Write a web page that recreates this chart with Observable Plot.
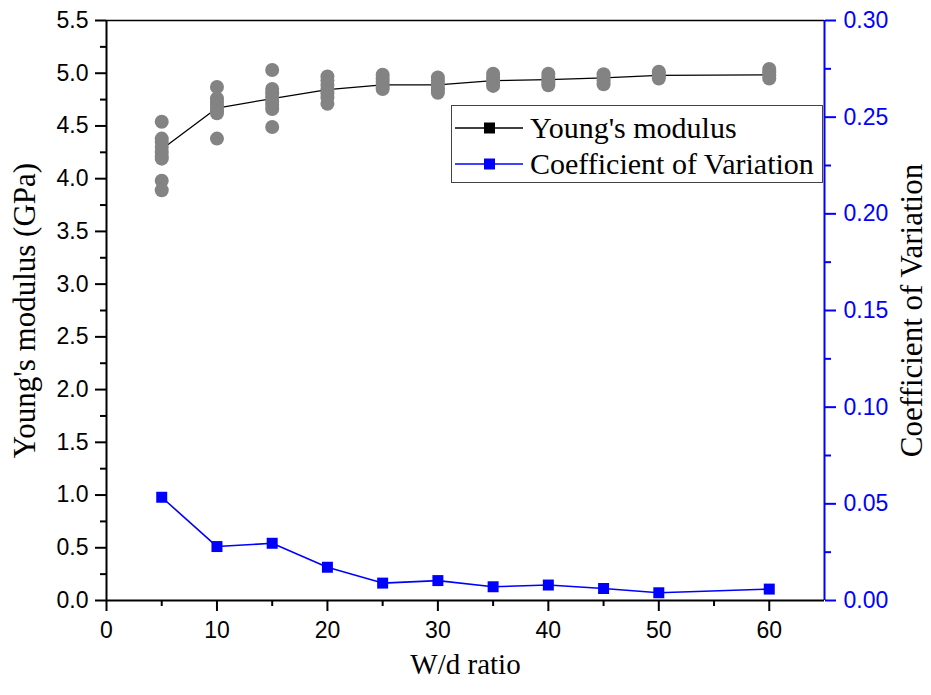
<!DOCTYPE html>
<html>
<head>
<meta charset="utf-8">
<script src="https://cdn.jsdelivr.net/npm/d3@7"></script>
<script src="https://cdn.jsdelivr.net/npm/@observablehq/plot@0.6"></script>
<style>
  html, body { margin: 0; padding: 0; background: #fff; }
  #wrap { position: relative; width: 931px; height: 695px; }
  #legend {
    position: absolute; left: 451px; top: 105px; width: 372px; height: 78px;
    border: 1.3px solid #444; background: #fff; box-sizing: border-box;
    font-family: "Liberation Serif", "Times New Roman", serif; font-size: 30px; color: #000;
  }
  .row { position: absolute; left: 0; display: flex; align-items: center; height: 36px; }
  .row span { margin-left: 6px; white-space: nowrap; }
</style>
</head>
<body>
<div id="wrap"></div>
<script>
// ---- data ----
const wdRatio = [5, 10, 15, 20, 25, 30, 35, 40, 45, 50, 60];
const youngsMean = [4.28, 4.67, 4.76, 4.845, 4.89, 4.89, 4.93, 4.94, 4.955, 4.98, 4.985];
const cvValues = [0.0534, 0.0279, 0.0296, 0.0172, 0.0090, 0.0103, 0.0071, 0.0080, 0.0062, 0.0040, 0.0059];
const youngsSamples = [
  [4.54, 4.38, 4.35, 4.30, 4.25, 4.21, 4.19, 3.98, 3.89],
  [4.87, 4.76, 4.73, 4.70, 4.67, 4.64, 4.62, 4.38],
  [5.03, 4.85, 4.81, 4.77, 4.73, 4.70, 4.66, 4.49],
  [4.97, 4.93, 4.89, 4.85, 4.81, 4.77, 4.71],
  [4.985, 4.95, 4.92, 4.89, 4.87, 4.85],
  [4.96, 4.93, 4.90, 4.87, 4.84, 4.815],
  [4.995, 4.96, 4.93, 4.90, 4.88],
  [4.995, 4.96, 4.93, 4.91, 4.885],
  [4.99, 4.96, 4.93, 4.895],
  [5.015, 4.99, 4.97, 4.95],
  [5.04, 5.01, 4.98, 4.95]
];
const xTicks = [0, 10, 20, 30, 40, 50, 60];
const xMinorTicks = [5, 15, 25, 35, 45, 55];
const yTicks = [0, 0.5, 1, 1.5, 2, 2.5, 3, 3.5, 4, 4.5, 5, 5.5];
const yMinorTicks = [0.25, 0.75, 1.25, 1.75, 2.25, 2.75, 3.25, 3.75, 4.25, 4.75, 5.25];
const cvTicks = [0, 0.05, 0.10, 0.15, 0.20, 0.25, 0.30];
const cvMinorTicks = [0.025, 0.075, 0.125, 0.175, 0.225, 0.275];
const yMax = 5.5, cvMax = 0.30;
const xLabel = "W/d ratio";
const yLabel = "Young's modulus (GPa)";
const cvLabel = "Coefficient of Variation";
const legendLabels = ["Young's modulus", "Coefficient of Variation"];

// ---- build tables ----
const k = yMax / cvMax; // map CV onto the left y scale
const points = youngsSamples.flatMap((arr, i) => arr.map(v => ({x: wdRatio[i], y: v})));
const means = wdRatio.map((x, i) => ({x, y: youngsMean[i]}));
const cv = wdRatio.map((x, i) => ({x, y: cvValues[i] * k}));

const sans = "'Liberation Sans', Arial, sans-serif";
const serif = "'Liberation Serif', 'Times New Roman', serif";
const blue = "#0000ff";
const tickFont = 23;

const chart = Plot.plot({
  width: 931,
  height: 695,
  marginLeft: 106,
  marginRight: 107,
  marginTop: 20,
  marginBottom: 95,
  style: {fontFamily: sans, fontSize: tickFont + "px", background: "#fff", color: "#000"},
  x: {domain: [0, 65]},
  y: {domain: [0, yMax]},
  marks: [
    // CV series
    Plot.line(cv, {x: "x", y: "y", stroke: blue, strokeWidth: 1.6}),
    Plot.dot(cv, {x: "x", y: "y", symbol: "square", r: 6.2, fill: blue, stroke: null}),
    // Young's modulus mean line
    Plot.line(means, {x: "x", y: "y", stroke: "#000", strokeWidth: 1.3}),
    Plot.dot(means, {x: "x", y: "y", symbol: "square", r: 5, fill: "#000", stroke: null}),
    // sample points
    Plot.dot(points, {x: "x", y: "y", r: 7, fill: "#838383", stroke: null}),
    // frame lines
    Plot.ruleY([yMax], {stroke: "#000", strokeWidth: 1.5}),
    Plot.ruleX([65], {stroke: blue, strokeWidth: 2}),
    Plot.ruleX([0], {stroke: "#000", strokeWidth: 2}),
    Plot.ruleY([0], {stroke: "#000", strokeWidth: 2}),
    // x axis
    Plot.axisX(xTicks, {anchor: "bottom", tickSize: 11, tickPadding: 10, strokeWidth: 2, fontSize: tickFont, fontFamily: sans, label: null}),
    Plot.axisX(xMinorTicks, {anchor: "bottom", tickSize: 6, strokeWidth: 2, tickFormat: () => "", label: null}),
    // left y axis
    Plot.axisY(yTicks, {anchor: "left", tickSize: 11, tickPadding: 7, strokeWidth: 2, fontSize: tickFont, fontFamily: sans, tickFormat: d => d.toFixed(1), label: null}),
    Plot.axisY(yMinorTicks, {anchor: "left", tickSize: 6, strokeWidth: 2, tickFormat: () => "", label: null}),
    // right y axis (CV)
    Plot.axisY(cvTicks.map(v => v * k), {anchor: "right", tickSize: 11, tickPadding: 8, strokeWidth: 2, color: blue, fontSize: tickFont, fontFamily: sans, tickFormat: d => (d / k).toFixed(2), label: null}),
    Plot.axisY(cvMinorTicks.map(v => v * k), {anchor: "right", tickSize: 6, strokeWidth: 2, color: blue, tickFormat: () => "", label: null}),
    // axis titles
    Plot.text([xLabel], {frameAnchor: "bottom", textAnchor: "middle", dy: 73, fontFamily: serif, fontSize: 29, fill: "#000"}),
    Plot.text([yLabel], {frameAnchor: "left", textAnchor: "middle", dx: -81, rotate: -90, fontFamily: serif, fontSize: 31, fill: "#000"}),
    Plot.text([cvLabel], {frameAnchor: "right", textAnchor: "middle", dx: 88, rotate: -90, fontFamily: serif, fontSize: 31, fill: "#000"})
  ]
});

const wrap = document.getElementById("wrap");
wrap.appendChild(chart);

// legend
const legend = document.createElement("div");
legend.id = "legend";
const colors = ["#000", blue];
legendLabels.forEach((lab, i) => {
  const row = document.createElement("div");
  row.className = "row";
  row.style.top = (4 + i * 36) + "px";
  row.innerHTML = `<svg width="70" height="20" style="margin-left:2px"><line x1="1" x2="69" y1="10" y2="10" stroke="${colors[i]}" stroke-width="1.5"/><rect x="30" y="4.5" width="11" height="11" fill="${colors[i]}"/></svg><span>${lab}</span>`;
  legend.appendChild(row);
});
wrap.appendChild(legend);
</script>
</body>
</html>
